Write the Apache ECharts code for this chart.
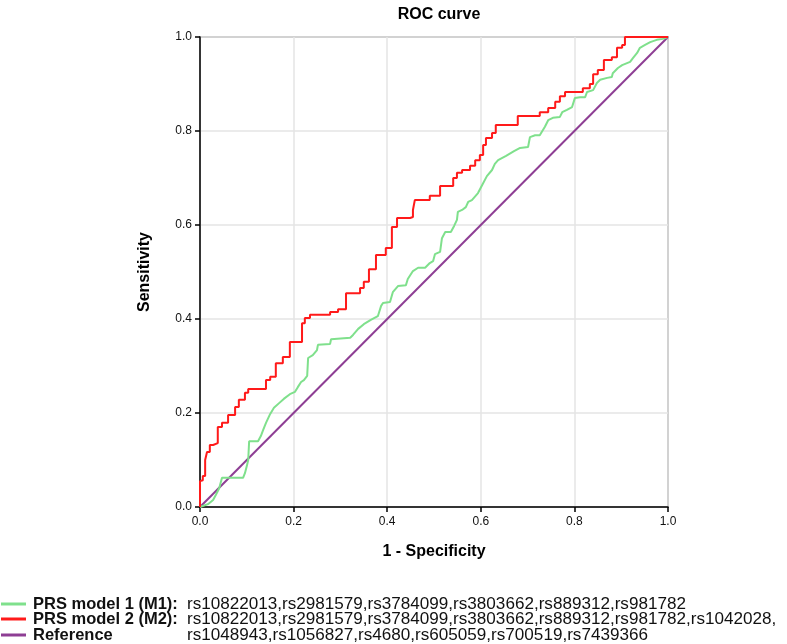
<!DOCTYPE html>
<html><head><meta charset="utf-8">
<script src="https://cdn.jsdelivr.net/npm/echarts@6/dist/echarts.min.js"></script>
<style>html,body{margin:0;padding:0;background:#fff}#c{width:787px;height:644px}</style>
</head><body><div id="c"></div>
<script>
// 1 - Specificity / Sensitivity vertices of each ROC curve
const m2Points = [
[0,0],[0,0.055],[0.006,0.057],[0.006,0.066],[0.011,0.066],[0.011,0.100],[0.015,0.100],[0.015,0.117],
[0.021,0.117],[0.021,0.132],[0.028,0.132],[0.028,0.136],[0.038,0.136],[0.038,0.170],[0.047,0.170],[0.047,0.179],
[0.060,0.179],[0.060,0.196],[0.075,0.196],[0.075,0.213],[0.083,0.213],[0.083,0.228],[0.096,0.228],[0.096,0.243],
[0.103,0.243],[0.103,0.251],[0.141,0.251],[0.141,0.270],[0.150,0.270],[0.150,0.277],[0.162,0.277],[0.162,0.306],
[0.177,0.306],[0.177,0.319],[0.192,0.319],[0.192,0.351],[0.218,0.351],[0.218,0.391],[0.224,0.391],[0.224,0.402],
[0.235,0.402],[0.235,0.409],[0.278,0.409],[0.278,0.415],[0.295,0.415],[0.295,0.421],[0.312,0.421],[0.312,0.455],
[0.342,0.455],[0.342,0.466],[0.350,0.466],[0.350,0.479],[0.361,0.479],[0.361,0.506],[0.376,0.506],[0.376,0.536],
[0.397,0.536],[0.397,0.551],[0.410,0.551],[0.410,0.596],[0.421,0.596],[0.421,0.615],[0.449,0.615],[0.455,0.617],
[0.455,0.632],[0.459,0.632],[0.459,0.653],[0.491,0.653],[0.491,0.662],[0.513,0.662],[0.513,0.683],[0.541,0.683],
[0.541,0.700],[0.549,0.700],[0.549,0.711],[0.560,0.711],[0.560,0.717],[0.577,0.717],[0.577,0.726],[0.588,0.726],
[0.588,0.738],[0.598,0.738],[0.598,0.749],[0.605,0.749],[0.605,0.770],[0.611,0.770],[0.611,0.785],[0.624,0.785],
[0.624,0.796],[0.632,0.796],[0.632,0.813],[0.679,0.813],[0.679,0.832],[0.726,0.832],[0.726,0.840],[0.744,0.840],
[0.744,0.849],[0.759,0.849],[0.759,0.862],[0.769,0.862],[0.769,0.874],[0.780,0.874],[0.780,0.883],[0.818,0.883],
[0.818,0.891],[0.833,0.891],[0.833,0.900],[0.840,0.900],[0.840,0.921],[0.850,0.921],[0.850,0.930],[0.863,0.930],
[0.863,0.951],[0.880,0.951],[0.880,0.957],[0.891,0.957],[0.891,0.977],[0.902,0.977],[0.902,0.983],[0.908,0.983],
[0.908,1.0],[1,1]
];
const m1Points = [
[0,0],[0.006,0.002],[0.017,0.006],[0.028,0.015],[0.034,0.026],[0.041,0.040],[0.047,0.062],[0.092,0.062],
[0.096,0.072],[0.100,0.087],[0.103,0.100],[0.105,0.140],[0.124,0.140],[0.130,0.151],[0.135,0.164],[0.141,0.179],
[0.150,0.198],[0.158,0.211],[0.169,0.221],[0.179,0.230],[0.192,0.240],[0.203,0.245],[0.209,0.255],[0.216,0.266],
[0.222,0.270],[0.229,0.279],[0.231,0.317],[0.241,0.323],[0.250,0.334],[0.252,0.345],[0.278,0.347],[0.280,0.357],
[0.321,0.360],[0.327,0.366],[0.338,0.379],[0.350,0.389],[0.365,0.398],[0.380,0.406],[0.387,0.428],[0.391,0.434],
[0.406,0.436],[0.412,0.457],[0.423,0.470],[0.440,0.472],[0.444,0.485],[0.455,0.502],[0.466,0.509],[0.481,0.509],
[0.491,0.519],[0.498,0.523],[0.502,0.538],[0.513,0.543],[0.517,0.572],[0.524,0.585],[0.536,0.585],[0.543,0.598],
[0.549,0.611],[0.551,0.628],[0.560,0.632],[0.568,0.638],[0.573,0.649],[0.581,0.653],[0.594,0.668],[0.603,0.685],
[0.613,0.704],[0.624,0.717],[0.630,0.730],[0.637,0.738],[0.654,0.747],[0.671,0.757],[0.684,0.764],[0.701,0.766],
[0.705,0.787],[0.716,0.791],[0.726,0.791],[0.737,0.809],[0.744,0.823],[0.754,0.828],[0.769,0.830],[0.774,0.840],
[0.784,0.845],[0.795,0.851],[0.801,0.870],[0.812,0.872],[0.823,0.872],[0.827,0.883],[0.840,0.887],[0.848,0.902],
[0.855,0.909],[0.870,0.913],[0.880,0.915],[0.882,0.923],[0.893,0.934],[0.902,0.940],[0.919,0.947],[0.925,0.955],
[0.934,0.966],[0.940,0.977],[0.951,0.983],[0.962,0.989],[0.976,0.994],[0.989,0.996],[1,1]
];
const refPoints = [[0,0],[1,1]];

const seriesNames = ['PRS model 1 (M1):', 'PRS model 2 (M2):', 'Reference'];
const snpLines = [
  'rs10822013,rs2981579,rs3784099,rs3803662,rs889312,rs981782',
  'rs10822013,rs2981579,rs3784099,rs3803662,rs889312,rs981782,rs1042028,',
  'rs1048943,rs1056827,rs4680,rs605059,rs700519,rs7439366'
];
const axisTicks = [0, 0.2, 0.4, 0.6, 0.8, 1.0];
const colors = ['#7fe08c', '#ff1a1a', '#8e3e94'];

const FONT = '"Liberation Sans", Arial, sans-serif';
const chart = echarts.init(document.getElementById('c'), null, {renderer: 'canvas'});
const axisCommon = {
  type: 'value', min: axisTicks[0], max: axisTicks[axisTicks.length - 1], interval: 0.2,
  axisLine: {show: true, onZero: false, lineStyle: {color: '#000', width: 1.5}},
  axisTick: {show: true, length: 5, lineStyle: {color: '#000', width: 1.5}},
  axisLabel: {color: '#111', fontSize: 12, fontFamily: FONT, formatter: v => v.toFixed(1)},
  splitLine: {show: true, lineStyle: {color: '#e4e4e4', width: 1.5}},
  nameLocation: 'middle',
  nameTextStyle: {color: '#000', fontSize: 16, fontWeight: 'bold', fontFamily: FONT}
};

// legend drawn as graphic rows
const rowY = [604, 619, 635];
const legendGraphics = [];
seriesNames.forEach((n, i) => {
  legendGraphics.push({type: 'line', shape: {x1: 1, y1: rowY[i], x2: 26, y2: rowY[i]},
    style: {stroke: colors[i], lineWidth: 3}, silent: true});
  legendGraphics.push({type: 'text', x: 33, y: rowY[i],
    style: {text: n, fill: '#111', font: 'bold 16.5px ' + FONT, textVerticalAlign: 'middle'}, silent: true});
});
snpLines.forEach((t, i) => {
  legendGraphics.push({type: 'text', x: 187, y: rowY[i],
    style: {text: t, fill: '#111', font: '17.1px ' + FONT, textVerticalAlign: 'middle'}, silent: true});
});

chart.setOption({
  animation: false,
  backgroundColor: '#fff',
  title: {text: 'ROC curve', left: 434, textAlign: 'center', top: 2,
    textStyle: {fontSize: 16, fontWeight: 'bold', color: '#000', fontFamily: FONT}},
  grid: {left: 200, right: 119, top: 37, bottom: 137, show: true, borderColor: '#7a7a7a', borderWidth: 1.5},
  xAxis: Object.assign({}, axisCommon, {name: '1 - Specificity', nameGap: 37,
    axisLabel: Object.assign({}, axisCommon.axisLabel, {margin: 9})}),
  yAxis: Object.assign({}, axisCommon, {name: 'Sensitivity', nameGap: 47,
    axisLabel: Object.assign({}, axisCommon.axisLabel, {margin: 8})}),
  graphic: legendGraphics,
  series: [
    {name: seriesNames[0], type: 'line', data: m1Points, showSymbol: false, symbol: 'none',
      lineStyle: {color: colors[0], width: 2}, itemStyle: {color: colors[0]}, z: 3},
    {name: seriesNames[1], type: 'line', data: m2Points, showSymbol: false, symbol: 'none',
      lineStyle: {color: colors[1], width: 2}, itemStyle: {color: colors[1]}, z: 4},
    {name: seriesNames[2], type: 'line', data: refPoints, showSymbol: false, symbol: 'none',
      lineStyle: {color: colors[2], width: 2}, itemStyle: {color: colors[2]}, z: 2}
  ]
});
</script></body></html>
